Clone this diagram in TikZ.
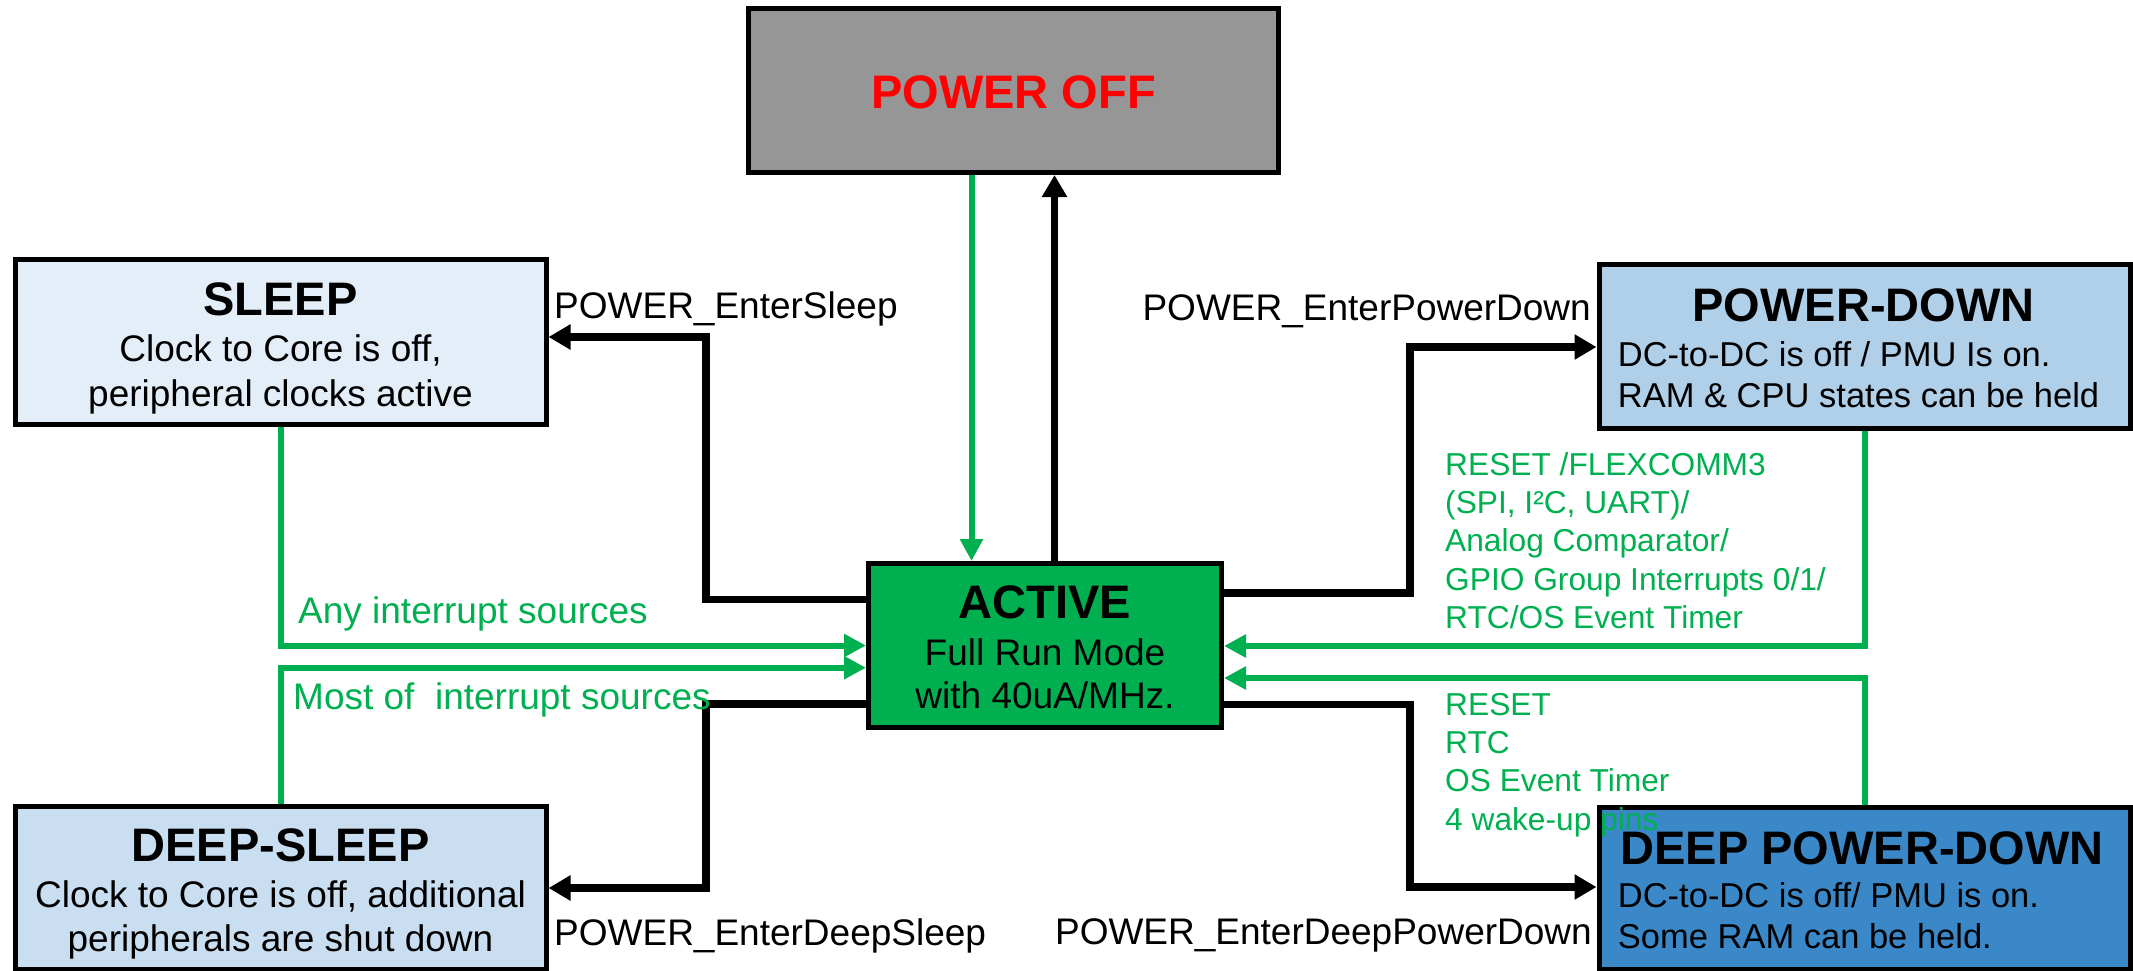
\documentclass[tikz,border=0pt]{standalone}
\usepackage{fontspec}
\setmainfont{Liberation Sans}
\usetikzlibrary{arrows.meta}

\definecolor{offgray}{HTML}{969696}
\definecolor{sleepfill}{HTML}{E4EEF8}
\definecolor{dsfill}{HTML}{C9DEF0}
\definecolor{pdfill}{HTML}{B0CFE9}
\definecolor{dpdfill}{HTML}{3A88C8}
\definecolor{actgreen}{HTML}{00B050}
\definecolor{offred}{HTML}{FF0000}

\tikzset{
  statebox/.style={draw=black, line width=5pt, inner sep=0pt, outer sep=2.5pt, rectangle},
  titletext/.style={font=\fontsize{47}{56}\selectfont\bfseries, anchor=base, inner sep=0pt},
  bodytext/.style={font=\fontsize{37}{44}\selectfont, anchor=base, inner sep=0pt},
  smalltext/.style={font=\fontsize{34.5}{41}\selectfont, anchor=base west, inner sep=0pt},
  calltext/.style={font=\fontsize{37}{44}\selectfont, inner sep=0pt},
  wakeleft/.style={font=\fontsize{37}{44}\selectfont, text=actgreen, anchor=base west, inner sep=0pt},
  wakeright/.style={font=\fontsize{31.7}{38}\selectfont, text=actgreen, anchor=base west, inner sep=0pt},
  callarrow/.style={draw=black, line width=7.5pt, line join=miter, -{Triangle[length=22pt,width=24pt]}},
  wakearrow/.style={draw=actgreen, line width=6pt, line join=miter, -{Triangle[length=22pt,width=22pt]}},
}

\begin{document}
\begin{tikzpicture}[x=1pt,y=-1pt]
\useasboundingbox (0,0) rectangle (2133,971);

% state boxes
\node[statebox, fill=offgray, minimum width=530pt, minimum height=164pt] (off) at (1013.5,90.5) {};
\node[statebox, fill=sleepfill, minimum width=531pt, minimum height=165pt] (sleep) at (280.5,341.7) {};
\node[statebox, fill=actgreen, minimum width=353pt, minimum height=164pt] (active) at (1045,645.5) {};
\node[statebox, fill=pdfill, minimum width=531pt, minimum height=164pt] (pd) at (1864.5,346.2) {};
\node[statebox, fill=dsfill, minimum width=531pt, minimum height=163pt] (ds) at (280.5,887.5) {};
\node[statebox, fill=dpdfill, minimum width=531pt, minimum height=162pt] (dpd) at (1864.5,888) {};

% box texts
\node[titletext, text=offred] (offT) at (1013.5,108.3) {POWER OFF};
\node[titletext] (sleepT) at (280.5,315) {SLEEP};
\node[bodytext] (sleepB1) at (280.5,361.7) {Clock to Core is off,};
\node[bodytext] (sleepB2) at (280.5,406) {peripheral clocks active};
\node[titletext] (actT) at (1045,618.3) {ACTIVE};
\node[bodytext] (actB1) at (1045,665) {Full Run Mode};
\node[bodytext] (actB2) at (1045,708.5) {with 40uA/MHz.};
\node[titletext] (pdT) at (1863.5,321.7) {POWER-DOWN};
\node[smalltext] (pdB1) at (1617.7,366.7) {DC-to-DC is off / PMU Is on.};
\node[smalltext] (pdB2) at (1617.7,407.3) {RAM \& CPU states can be held};
\node[titletext] (dsT) at (280.5,861) {DEEP-SLEEP};
\node[bodytext] (dsB1) at (280.5,907.7) {Clock to Core is off, additional};
\node[bodytext] (dsB2) at (280.5,951.7) {peripherals are shut down};
\node[titletext] (dpdT) at (1862,864) {DEEP POWER-DOWN};
\node[smalltext] (dpdB1) at (1617.7,907.7) {DC-to-DC is off/ PMU is on.};
\node[smalltext] (dpdB2) at (1617.7,948.3) {Some RAM can be held.};

% power off <-> active
\draw[wakearrow] (971.5,0 |- off.south) -- (971.5,0 |- active.north);
\draw[callarrow] (1054.5,0 |- active.north) -- (1054.5,0 |- off.south);

% entering low-power modes
\draw[callarrow] (active.west |- 0,599.7) -| (706,337) -- (sleep.east |- 0,337);
\draw[callarrow] (active.west |- 0,704) -| (706,888) -- (ds.east |- 0,888);
\draw[callarrow] (active.east |- 0,593) -| (1410,347) -- (pd.west |- 0,347);
\draw[callarrow] (active.east |- 0,704.5) -| (1410,887) -- (dpd.west |- 0,887);

% wake-up paths
\draw[wakearrow] (sleep.south) |- (active.west |- 0,645.5);
\draw[wakearrow] (ds.north) |- (active.west |- 0,667.7);
\draw[wakearrow] (pd.south) |- (active.east |- 0,646);
\draw[wakearrow] (dpd.north) |- (active.east |- 0,678);

% API call labels
\node[calltext, anchor=base west] (lblSleep) at (554,318) {POWER\_EnterSleep};
\node[calltext, anchor=base west] (lblDS) at (554,945) {POWER\_EnterDeepSleep};
\node[calltext, anchor=base east] (lblPD) at (1591,320.7) {POWER\_EnterPowerDown};
\node[calltext, anchor=base east] (lblDPD) at (1592,944.5) {POWER\_EnterDeepPowerDown};

% wake-up source labels
\node[wakeleft] (lblAny) at (298,623.3) {Any interrupt sources};
\node[wakeleft] (lblMost) at (293,709.3) {Most of~ interrupt sources};

\node[wakeright] (pdW1) at (1445,475) {RESET /FLEXCOMM3};
\node[wakeright] (pdW2) at (1445,513.3) {(SPI, I²C, UART)/};
\node[wakeright] (pdW3) at (1445,551.7) {Analog Comparator/};
\node[wakeright] (pdW4) at (1445,590) {GPIO Group Interrupts 0/1/};
\node[wakeright] (pdW5) at (1445,628.3) {RTC/OS Event Timer};

\node[wakeright] (dpdW1) at (1445,715) {RESET};
\node[wakeright] (dpdW2) at (1445,753.3) {RTC};
\node[wakeright] (dpdW3) at (1445,791.7) {OS Event Timer};
\node[wakeright] (dpdW4) at (1445,830) {4 wake-up pins};
\end{tikzpicture}
\end{document}
